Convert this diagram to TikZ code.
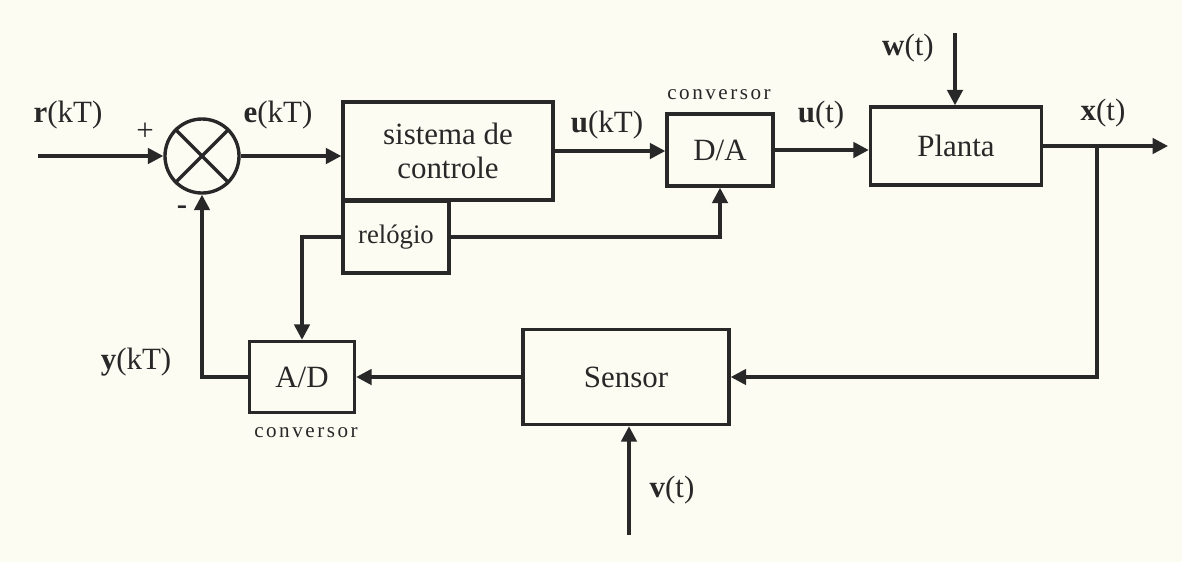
\documentclass[tikz,border=0pt]{standalone}
\usepackage{fontspec}
\setmainfont{Liberation Serif}
\newfontfamily\spacedfont[LetterSpace=12]{Liberation Serif}
\usepackage{tikz}
\usetikzlibrary{arrows.meta}
\definecolor{papel}{RGB}{253,252,243}
\definecolor{tinta}{RGB}{40,40,40}

\begin{document}
\begin{tikzpicture}[x=0.025cm,y=-0.025cm,
		bloco/.style={draw=tinta,line width=2.4pt,fill=papel,inner sep=0pt,
			font=\fontsize{22}{24}\selectfont,text=tinta,align=center},
		rotulo/.style={font=\fontsize{22}{24}\selectfont,text=tinta,inner sep=0pt},
		nota/.style={font=\spacedfont\fontsize{15}{17}\selectfont,text=tinta,inner sep=0pt},
		fio/.style={draw=tinta,line width=2.4pt},
		seta/.style={fio,-{Triangle[length=11pt,width=11pt]}}]
		% fundo
		\fill[papel] (0,0) rectangle (1182,562);
		
		% somador
		\node[draw=tinta,line width=2.4pt,circle,minimum size=1.85cm,inner sep=0pt] (soma) at (202,156) {};
		\draw[fio] (soma.45) -- (soma.225) (soma.135) -- (soma.315);
		\node[rotulo] (mais) at (145,132) {+};
		\node[rotulo] (menos) at (182,210) {\textbf{-}};
		
		% blocos
		\node[bloco,minimum width=5.25cm,minimum height=2.45cm] (ctrl) at (448,151) {sistema de\\controle};
		\node[bloco,minimum width=2.65cm,minimum height=1.8cm,font=\fontsize{19}{21}\selectfont] (relogio) at (396,237) {relógio};
		\node[bloco,minimum width=2.65cm,minimum height=1.8cm] (da) at (720,150) {D/A};
		\node[bloco,minimum width=4.275cm,minimum height=1.95cm] (planta) at (956,146) {Planta};
		\node[bloco,minimum width=2.625cm,minimum height=1.775cm] (ad) at (302,377) {A/D};
		\node[bloco,minimum width=5.15cm,minimum height=2.375cm] (sensor) at (626,377) {Sensor};
		\node[nota] (convDA) at (719,95) {conversor};
		\node[nota] (convAD) at (306,433) {conversor};
		
		% entradas, saida e ramo
		\coordinate (rin) at (38,156);
		\coordinate (win) at (955,33);
		\coordinate (vin) at (629,535);
		\coordinate (xout) at (1168,146);
		\coordinate (ramo) at (1097,146);
		
		% ligacoes
		\draw[seta] (rin) -- (soma.west);
		\draw[seta] (soma.east) -- (soma.east -| ctrl.west);
		\draw[seta] (ctrl.east) -- (ctrl.east -| da.west);
		\draw[seta] (da.east) -- (da.east -| planta.west);
		\draw[seta] (planta.east) -- (xout);
		\draw[seta] (win) -- (win |- planta.north);
		\draw[seta] (ramo) |- (sensor.east);
		\draw[seta] (vin) -- (vin |- sensor.south);
		\draw[seta] (sensor.west) -- (sensor.west -| ad.east);
		\draw[seta] (ad.west) -| (soma.south);
		\draw[seta] (relogio.east) -| (da.south);
		\draw[seta] (relogio.west) -| (ad.north);
		
		% sinais
		\node[rotulo] (lr) at (68,115) {\textbf{r}(kT)};
		\node[rotulo] (le) at (278,115) {\textbf{e}(kT)};
		\node[rotulo] (luk) at (607,125) {\textbf{u}(kT)};
		\node[rotulo] (lut) at (821,115) {\textbf{u}(t)};
		\node[rotulo] (lw) at (908,48) {\textbf{w}(t)};
		\node[rotulo] (lx) at (1103,113) {\textbf{x}(t)};
		\node[rotulo] (lv) at (672,490) {\textbf{v}(t)};
		\node[rotulo] (ly) at (136,362) {\textbf{y}(kT)};
	\end{tikzpicture}
\end{document}
